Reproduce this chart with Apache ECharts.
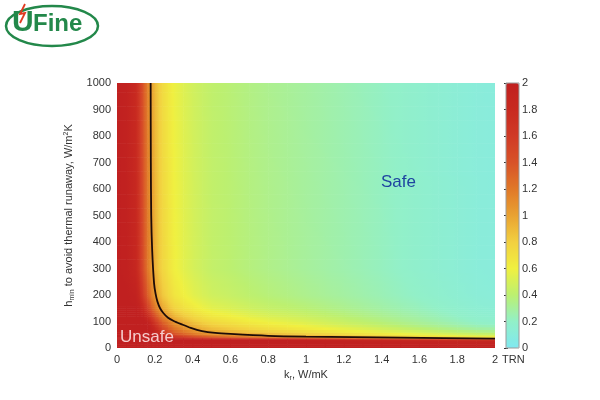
<!DOCTYPE html>
<html>
<head>
<meta charset="utf-8">
<script src="https://cdn.jsdelivr.net/npm/echarts@6/dist/echarts.min.js"></script>
<style>html,body{margin:0;padding:0;background:#fff}#c{width:600px;height:400px}</style>
</head>
<body>
<div id="c"></div>
<script>
// k_r cell edges (W/mK)
const kEdges = [0,0.05,0.1,0.12,0.14,0.16,0.18,0.2,0.22,0.24,0.27,0.3,0.35,0.4,0.45,0.5,0.6,0.7,0.8,0.9,1.0,1.1,1.2,1.3,1.4,1.5,1.6,1.7,1.8,1.9,2.0];
// h cell edges (W/m2K)
const hEdges = [0,28,33,37,41,46,52,60,70,80,90,100,120,150,200,300,1000];
// TRN values, one row per h band (bottom to top), one value per k cell
const trnRows = [
  [2,2,2,2,2,2,2,2,2,2,2,2,2,2,2,2,2,2,2,2,2,2,2,2,2,2,2,2,2,2],
  [2,2,2,2,2,2,2,2,2,2,2,2,2,2,2,2,2,2,2,2,1.98,1.96,1.94,1.92,1.9,1.88,1.86,1.84,1.82,1.8],
  [2,2,2,2,2,2,2,2,2,2,2,2,2,2,2,2,2,2,2,1.94,1.88,1.83,1.77,1.72,1.66,1.6,1.55,1.49,1.44,1.38],
  [2,2,2,2,2,2,2,2,2,2,2,1.94,1.8,1.7,1.63,1.56,1.49,1.42,1.37,1.32,1.27,1.22,1.18,1.13,1.08,1.03,0.98,0.94,0.89,0.84],
  [2,2,2,2,2,2,2,2,2,1.94,1.76,1.63,1.5,1.41,1.35,1.28,1.21,1.15,1.1,1.06,1.02,0.97,0.93,0.88,0.84,0.8,0.75,0.71,0.66,0.62],
  [2,2,2,2,2,2,2,2,1.92,1.77,1.6,1.48,1.35,1.27,1.2,1.14,1.08,1.01,0.97,0.93,0.89,0.85,0.8,0.76,0.72,0.68,0.64,0.59,0.55,0.51],
  [2,2,2,2,2,2,2,1.94,1.78,1.64,1.47,1.35,1.23,1.14,1.08,1.02,0.96,0.9,0.86,0.82,0.77,0.73,0.69,0.65,0.61,0.57,0.53,0.49,0.45,0.41],
  [2,2,2,2,2,2,2,1.82,1.66,1.52,1.36,1.24,1.12,1.04,0.98,0.92,0.86,0.8,0.76,0.72,0.68,0.64,0.6,0.56,0.52,0.48,0.44,0.4,0.36,0.32],
  [2,2,2,2,2,2,1.92,1.73,1.57,1.44,1.28,1.16,1.05,0.97,0.91,0.85,0.79,0.73,0.69,0.66,0.62,0.58,0.54,0.5,0.46,0.42,0.38,0.34,0.3,0.27],
  [2,2,2,2,2,2,1.84,1.65,1.49,1.36,1.21,1.09,0.98,0.9,0.85,0.79,0.73,0.68,0.64,0.6,0.56,0.52,0.49,0.45,0.41,0.37,0.33,0.3,0.26,0.22],
  [2,2,2,2,2,2,1.76,1.57,1.42,1.3,1.15,1.04,0.93,0.85,0.8,0.74,0.68,0.63,0.59,0.56,0.52,0.48,0.44,0.41,0.37,0.33,0.3,0.26,0.22,0.19],
  [2,2,2,2,2,1.86,1.63,1.46,1.32,1.2,1.07,0.96,0.86,0.79,0.74,0.69,0.64,0.58,0.55,0.52,0.48,0.45,0.41,0.38,0.34,0.31,0.28,0.24,0.21,0.17],
  [2,2,2,2,1.81,1.57,1.38,1.23,1.12,1.02,0.9,0.81,0.73,0.67,0.62,0.58,0.54,0.49,0.46,0.44,0.41,0.38,0.35,0.32,0.29,0.26,0.23,0.2,0.17,0.15],
  [2,2,2,1.77,1.53,1.32,1.16,1.04,0.94,0.85,0.76,0.68,0.61,0.56,0.52,0.49,0.45,0.41,0.39,0.37,0.34,0.32,0.29,0.27,0.24,0.22,0.2,0.17,0.15,0.12],
  [2,2,1.84,1.57,1.35,1.17,1.03,0.92,0.83,0.76,0.67,0.6,0.54,0.5,0.46,0.43,0.4,0.37,0.35,0.32,0.3,0.28,0.26,0.24,0.22,0.19,0.17,0.15,0.13,0.11],
  [2,1.9,1.7,1.45,1.25,1.08,0.95,0.85,0.77,0.7,0.62,0.56,0.5,0.46,0.43,0.4,0.37,0.34,0.32,0.3,0.28,0.26,0.24,0.22,0.2,0.18,0.16,0.14,0.12,0.1]
];
// TRN = 1 contour
const contourK = [0.178,0.179,0.181,0.186,0.196,0.204,0.214,0.228,0.245,0.27,0.3,0.34,0.39,0.45,0.52,0.6,0.8,1.0,1.5,2.0];
const contourH = [1000,700,500,370,245,205,175,150,132,114,102,90,76,64,57,53,46,43,39,35];
const xTicks = [0,0.2,0.4,0.6,0.8,1,1.2,1.4,1.6,1.8,2];
const yTicks = [0,100,200,300,400,500,600,700,800,900,1000];
const cbTicks = [0,0.2,0.4,0.6,0.8,1,1.2,1.4,1.6,1.8,2];
const cmap = ['#80e8f0','#92f0c8','#bcf070','#f0f040','#f2d040','#e9a232','#e07828','#d85228','#d03a26','#c82a20','#c02020'];

const nCols = kEdges.length - 1, nRows = hEdges.length - 1;
const cells = [];
trnRows.forEach((row, j) => {
  row.forEach((v, i) => {
    cells.push([kEdges[i], kEdges[i+1], hEdges[j], hEdges[j+1], v]);
  });
});
const contour = contourK.map((k, i) => [k, contourH[i]]);

// shading: value at a cell corner = mean of the cells touching it (like shading interp)
function cornerVal(ci, cj) {
  let s = 0, n = 0;
  for (let j = cj - 1; j <= cj; j++) for (let i = ci - 1; i <= ci; i++) {
    if (j >= 0 && j < nRows && i >= 0 && i < nCols) { s += trnRows[j][i]; n++; }
  }
  return s / n;
}
function colorOf(v) {
  return echarts.color.lerp(Math.max(0, Math.min(1, v / 2)), cmap);
}

const FONT = 'Liberation Sans';
const tickStyle = {show: true, inside: true, length: 2, lineStyle: {color: '#333'}};
const chart = echarts.init(document.getElementById('c'), null, {renderer: 'canvas'});
chart.setOption({
  backgroundColor: '#fff',
  animation: false,
  textStyle: {fontFamily: FONT},
  grid: [
    {left: 117, right: 105, top: 83, bottom: 52},
    {left: 506, width: 13, top: 83, height: 265, show: true, borderColor: '#9a9a9a', borderWidth: 1, backgroundColor: 'transparent', z: 10}
  ],
  xAxis: [
    {type: 'value', gridIndex: 0, min: 0, max: 2, interval: 0.2,
     axisLine: {show: false}, axisTick: {show: false}, splitLine: {show: false},
     axisLabel: {color: '#333', fontSize: 11, margin: 6, fontFamily: FONT,
                 formatter: v => String(+(+v).toFixed(1))},
     name: '{n|k}{s|r}{n|, W/mK}', nameLocation: 'middle', nameGap: 19,
     nameTextStyle: {rich: {
       n: {fontSize: 11, color: '#333', fontFamily: FONT},
       s: {fontSize: 7, color: '#333', fontFamily: FONT, padding: [6,0,0,0]}
     }}},
    {type: 'value', gridIndex: 1, min: 0, max: 1, show: false}
  ],
  yAxis: [
    {type: 'value', gridIndex: 0, min: 0, max: 1000, interval: 100,
     axisLine: {show: false}, axisTick: {show: false}, splitLine: {show: false},
     axisLabel: {color: '#333', fontSize: 11, margin: 6, fontFamily: FONT, formatter: v => String(v)},
     name: '{n|h}{s|min}{n| to avoid thermal runaway, W/m}{p|2}{n|K}', nameLocation: 'middle', nameGap: 35, nameRotate: 90,
     nameTextStyle: {rich: {
       n: {fontSize: 11, color: '#333', fontFamily: FONT},
       s: {fontSize: 7, color: '#333', fontFamily: FONT, padding: [6,0,0,0]},
       p: {fontSize: 7, color: '#333', fontFamily: FONT, padding: [0,0,6,0]}
     }}},
    {type: 'value', gridIndex: 1, min: 0, max: 2, interval: 0.2, position: 'right',
     axisLine: {show: false}, splitLine: {show: false},
     axisTick: tickStyle,
     axisLabel: {color: '#333', fontSize: 11, margin: 3, fontFamily: FONT,
                 formatter: v => String(+(+v).toFixed(1))}},
    {type: 'value', gridIndex: 1, min: 0, max: 2, interval: 0.2, position: 'left',
     axisLine: {show: false}, splitLine: {show: false},
     axisTick: tickStyle, axisLabel: {show: false}}
  ],
  visualMap: {
    type: 'continuous', min: 0, max: 2, dimension: 4, seriesIndex: 0,
    calculable: false, hoverLink: false, realtime: false,
    orient: 'vertical', left: 506, top: 83, itemWidth: 13, itemHeight: 265,
    padding: 0, text: null, showLabel: false,
    inRange: {color: cmap}
  },
  series: [
    {
      type: 'custom', xAxisIndex: 0, yAxisIndex: 0, clip: true,
      encode: {x: [0,1], y: [2,3]},
      data: cells,
      renderItem: function (params, api) {
        const idx = params.dataIndex;
        const i = idx % nCols, j = Math.floor(idx / nCols);
        const p0 = api.coord([api.value(0), api.value(3)]); // top-left
        const p1 = api.coord([api.value(1), api.value(2)]); // bottom-right
        const w = p1[0] - p0[0], h = p1[1] - p0[1];
        const v00 = cornerVal(i, j), v10 = cornerVal(i + 1, j);
        const v01 = cornerVal(i, j + 1), v11 = cornerVal(i + 1, j + 1);
        const S = Math.max(1, Math.min(40, Math.round(h / 2)));
        const children = [];
        for (let s = 0; s < S; s++) {
          const t = (s + 0.5) / S; // from bottom
          const vl = v00 + (v01 - v00) * t, vr = v10 + (v11 - v10) * t;
          const stops = [];
          for (let q = 0; q <= 4; q++) {
            stops.push({offset: q / 4, color: colorOf(vl + (vr - vl) * q / 4)});
          }
          const yTop = p1[1] - (s + 1) * h / S;
          children.push({type: 'rect',
            shape: {x: p0[0], y: yTop, width: w + 0.6, height: h / S + 0.6},
            style: {fill: {type: 'linear', x: 0, y: 0, x2: 1, y2: 0, colorStops: stops}}});
        }
        return {type: 'group', children: children};
      }
    },
    {
      type: 'line', xAxisIndex: 0, yAxisIndex: 0, data: contour,
      symbol: 'none', smooth: 0.25, z: 5,
      lineStyle: {color: '#1e0c08', width: 1.8}
    }
  ],
  graphic: [
    {type: 'text', z: 100, left: 381, top: 174, style: {text: 'Safe', fill: '#1f44a0', font: '17px "Liberation Sans"'}},
    {type: 'text', z: 100, left: 120, top: 329, style: {text: 'Unsafe', fill: '#f6cccc', font: '17px "Liberation Sans"'}},
    {type: 'text', z: 100, left: 502, top: 354, style: {text: 'TRN', fill: '#333', font: '11px "Liberation Sans"'}},
    {type: 'ellipse', z: 100, shape: {cx: 52, cy: 26, rx: 46, ry: 20}, style: {fill: 'none', stroke: '#23884a', lineWidth: 2.5}},
    {type: 'text', z: 100, left: 12, top: 8, style: {text: 'U', fill: '#23884a', font: 'bold 30px "Liberation Sans"'}},
    {type: 'text', z: 100, left: 33, top: 12, style: {text: 'Fine', fill: '#23884a', font: 'bold 24px "Liberation Sans"'}},
    {type: 'polyline', z: 100, shape: {points: [[25,4],[20,14],[25,13],[20,23]]}, style: {stroke: '#e03a20', lineWidth: 1.8, fill: 'none'}}
  ]
});
</script>
</body>
</html>
